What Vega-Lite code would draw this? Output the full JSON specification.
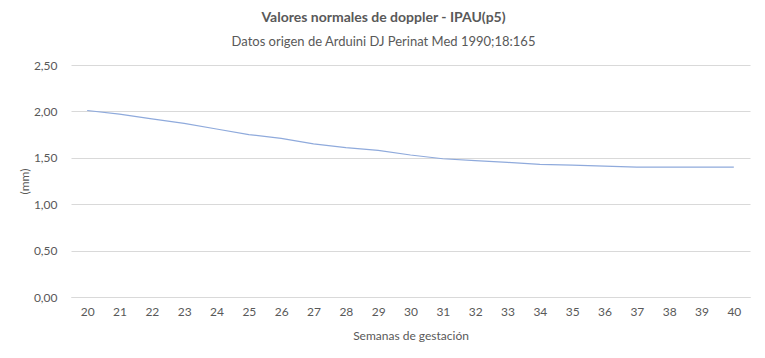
{
  "$schema": "https://vega.github.io/schema/vega-lite/v6.json",
  "width": 679,
  "height": 232,
  "autosize": {"type": "none"},
  "padding": {"left": 71, "top": 65, "right": 15, "bottom": 61},
  "background": "white",
  "config": {
    "view": {"stroke": null},
    "font": "Lato",
    "axis": {"labelColor": "#595959", "titleColor": "#595959", "labelFont": "Lato", "titleFont": "Lato", "labelFontSize": 12, "titleFontSize": 12, "titleFontWeight": "normal"}
  },
  "title": {
    "text": "Valores normales de doppler - IPAU(p5)",
    "subtitle": "Datos origen de Arduini DJ Perinat Med 1990;18:165",
    "anchor": "middle",
    "frame": "group",
    "dx": -27,
    "offset": 10,
    "font": "Lato",
    "fontSize": 14,
    "fontWeight": "bold",
    "color": "#595959",
    "subtitleFont": "Lato",
    "subtitleFontSize": 13,
    "subtitleColor": "#595959",
    "subtitlePadding": 11
  },
  "data": {
    "values": [
      {"semana": 20, "valor": 2.01},
      {"semana": 21, "valor": 1.97},
      {"semana": 22, "valor": 1.92},
      {"semana": 23, "valor": 1.87},
      {"semana": 24, "valor": 1.81},
      {"semana": 25, "valor": 1.75},
      {"semana": 26, "valor": 1.71},
      {"semana": 27, "valor": 1.65},
      {"semana": 28, "valor": 1.61},
      {"semana": 29, "valor": 1.58},
      {"semana": 30, "valor": 1.53},
      {"semana": 31, "valor": 1.49},
      {"semana": 32, "valor": 1.47},
      {"semana": 33, "valor": 1.45},
      {"semana": 34, "valor": 1.43},
      {"semana": 35, "valor": 1.42},
      {"semana": 36, "valor": 1.41},
      {"semana": 37, "valor": 1.40},
      {"semana": 38, "valor": 1.40},
      {"semana": 39, "valor": 1.40},
      {"semana": 40, "valor": 1.40}
    ]
  },
  "mark": {"type": "line", "color": "#8faadc", "strokeWidth": 1.2},
  "encoding": {
    "x": {
      "field": "semana",
      "type": "ordinal",
      "scale": {"type": "point", "padding": 0.5},
      "axis": {
        "title": "Semanas de gestación",
        "labelAngle": 0,
        "domain": true,
        "domainColor": "#d9d9d9",
        "ticks": false,
        "labelPadding": 9,
        "titlePadding": 13,
        "grid": false
      }
    },
    "y": {
      "field": "valor",
      "type": "quantitative",
      "scale": {"domain": [0, 2.5]},
      "axis": {
        "title": "(mm)",
        "values": [0, 0.5, 1, 1.5, 2, 2.5],
        "labelExpr": "replace(format(datum.value, '.2f'), '.', ',')",
        "domain": false,
        "ticks": false,
        "gridColor": "#d9d9d9",
        "labelPadding": 14,
        "titlePadding": 2
      }
    }
  }
}
